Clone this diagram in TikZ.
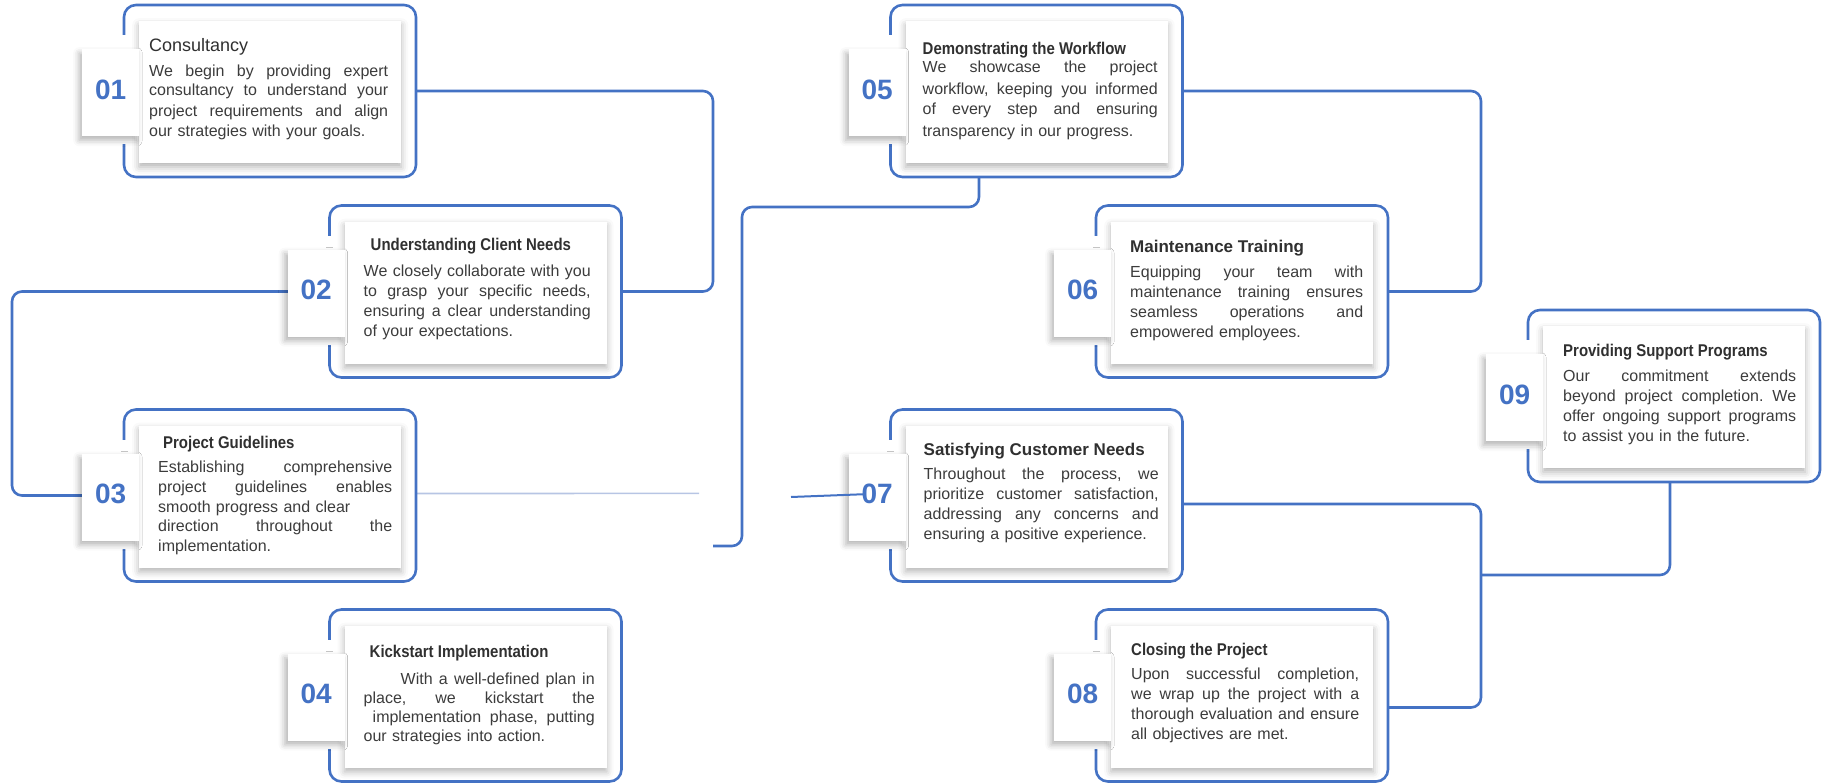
\documentclass[tikz,border=0pt]{standalone}
\usepackage{fontspec}
\setmainfont{Liberation Sans}
\newfontfamily\headfont[FakeStretch=0.88]{Liberation Sans}
\usepackage{xcolor}
\usetikzlibrary{calc, shadows.blur}
\definecolor{stepblue}{HTML}{4472C4}
\definecolor{paleblue}{HTML}{B7C5E4}
\definecolor{headgray}{HTML}{303030}
\definecolor{bodygray}{HTML}{3C3C3C}
\newcommand{\jl}[2][233pt]{\leavevmode\hbox to #1{\frenchspacing\spaceskip=0.28em plus 1fil\relax#2}}
\pgfdeclarelayer{back}
\pgfsetlayers{back,main}

\begin{document}
\begin{tikzpicture}[x=1pt, y=-1pt,
    stepframe/.style={draw=stepblue, line width=2.6pt, rounded corners=12pt, minimum width=292pt, minimum height=172pt, anchor=north west, inner sep=0pt, outer sep=0pt},
    stepgap/.style={fill=white, minimum width=7pt, minimum height=109pt, inner sep=0pt},
    stepcard/.style={fill=white, minimum width=262pt, minimum height=142pt, anchor=north west, inner sep=0pt, blur shadow={shadow xshift=0pt, shadow yshift=-4pt, shadow blur radius=7pt, shadow opacity=30}},
    steptab/.style={fill=white, minimum width=57pt, minimum height=87pt, anchor=north west, inner sep=0pt, blur shadow={shadow xshift=-3pt, shadow yshift=-4pt, shadow blur radius=6pt, shadow opacity=30}},
    stepnum/.style={font=\bfseries\fontsize{28}{28}\selectfont, text=stepblue, inner sep=0pt},
    stephead/.style={font=\headfont\bfseries\fontsize{17}{20}\selectfont, text=headgray, anchor=base west, inner sep=0pt},
    stepbody/.style={font=\fontsize{16}{20}\selectfont, text=bodygray, anchor=base west, inner sep=0pt, align=left, text width=240pt},
    steplink/.style={draw=stepblue, line width=2.6pt, rounded corners=10pt},
    paleline/.style={draw=paleblue, line width=1.6pt}]
\useasboundingbox (0,0) rectangle (1825,784);
% 01
\node[stepframe] (f1) at (124,5) {};
\node[stepgap] at ([yshift=-84.5pt]f1.north west) {};
\node[stepcard] (c1) at ([xshift=15pt,yshift=-16pt]f1.north west) {};
\node[steptab] (t1) at ([xshift=-42pt,yshift=-44pt]f1.north west) {};
\node[stepnum] (n1) at ([yshift=3pt]t1.center) {01};
\node[stephead, font=\fontsize{18}{20}\selectfont] (h1) at ([xshift=25pt,yshift=-46.5pt]f1.north west) {Consultancy};
\node[stepbody] (b1) at ([xshift=25pt,yshift=-71pt]f1.north west)
  {\jl[239pt]{We begin by providing expert}\\ \jl[239pt]{consultancy to understand your}\\ \jl[239pt]{project requirements and align}\\ our strategies with your goals.};
% 02
\node[stepframe] (f2) at (329.5,205.5) {};
\node[stepgap] at ([yshift=-84.5pt]f2.north west) {};
\node[stepcard] (c2) at ([xshift=15pt,yshift=-16pt]f2.north west) {};
\node[steptab] (t2) at ([xshift=-42pt,yshift=-44pt]f2.north west) {};
\node[stepnum] (n2) at ([yshift=3pt]t2.center) {02};
\node[stephead] (h2) at ([xshift=41pt,yshift=-45pt]f2.north west) {Understanding Client Needs};
\node[stepbody] (b2) at ([xshift=34pt,yshift=-71pt]f2.north west)
  {\jl[227pt]{We closely collaborate with you}\\ \jl[227pt]{to grasp your specific needs,}\\ \jl[227pt]{ensuring a clear understanding}\\ of your expectations.};
% 03
\node[stepframe] (f3) at (124,409.5) {};
\node[stepgap] at ([yshift=-84.5pt]f3.north west) {};
\node[stepcard] (c3) at ([xshift=15pt,yshift=-16pt]f3.north west) {};
\node[steptab] (t3) at ([xshift=-42pt,yshift=-44pt]f3.north west) {};
\node[stepnum] (n3) at ([yshift=3pt]t3.center) {03};
\node[stephead] (h3) at ([xshift=39pt,yshift=-38.5pt]f3.north west) {Project Guidelines};
\node[stepbody, font=\fontsize{16}{19.75}\selectfont] (b3) at ([xshift=34pt,yshift=-63pt]f3.north west)
  {\jl[234pt]{Establishing comprehensive}\\ \jl[234pt]{project guidelines enables}\\ smooth progress and clear\\ \jl[234pt]{direction throughout the}\\ implementation.};
% 04
\node[stepframe] (f4) at (329.5,609.5) {};
\node[stepgap] at ([yshift=-84.5pt]f4.north west) {};
\node[stepcard] (c4) at ([xshift=15pt,yshift=-16pt]f4.north west) {};
\node[steptab] (t4) at ([xshift=-42pt,yshift=-44pt]f4.north west) {};
\node[stepnum] (n4) at ([yshift=3pt]t4.center) {04};
\node[stephead] (h4) at ([xshift=40pt,yshift=-48pt]f4.north west) {Kickstart Implementation};
\node[stepbody, font=\fontsize{16}{19}\selectfont] (b4) at ([xshift=34pt,yshift=-75pt]f4.north west)
  {\jl[231pt]{\hspace*{37pt}With a well-defined plan in}\\ \jl[231pt]{place, we kickstart the}\\ \jl[231pt]{\hspace*{9pt}implementation phase, putting}\\ our strategies into action.};
% 05
\node[stepframe] (f5) at (890.5,5) {};
\node[stepgap] at ([yshift=-84.5pt]f5.north west) {};
\node[stepcard] (c5) at ([xshift=15pt,yshift=-16pt]f5.north west) {};
\node[steptab] (t5) at ([xshift=-42pt,yshift=-44pt]f5.north west) {};
\node[stepnum] (n5) at ([yshift=3pt]t5.center) {05};
\node[stephead] (h5) at ([xshift=32pt,yshift=-50pt]f5.north west) {Demonstrating the Workflow};
\node[stepbody, font=\fontsize{16}{21}\selectfont] (b5) at ([xshift=32pt,yshift=-68pt]f5.north west)
  {\jl[235pt]{We showcase the project}\\ \jl[235pt]{workflow, keeping you informed}\\ \jl[235pt]{of every step and ensuring}\\ transparency in our progress.};
% 06
\node[stepframe] (f6) at (1096,205.5) {};
\node[stepgap] at ([yshift=-84.5pt]f6.north west) {};
\node[stepcard] (c6) at ([xshift=15pt,yshift=-16pt]f6.north west) {};
\node[steptab] (t6) at ([xshift=-42pt,yshift=-44pt]f6.north west) {};
\node[stepnum] (n6) at ([yshift=3pt]t6.center) {06};
\node[stephead, font=\bfseries\fontsize{17}{20}\selectfont] (h6) at ([xshift=34pt,yshift=-46.5pt]f6.north west) {Maintenance Training};
\node[stepbody] (b6) at ([xshift=34pt,yshift=-71.5pt]f6.north west)
  {\jl{Equipping your team with}\\ \jl{maintenance training ensures}\\ \jl{seamless operations and}\\ empowered employees.};
% 07
\node[stepframe] (f7) at (890.5,409.5) {};
\node[stepgap] at ([yshift=-84.5pt]f7.north west) {};
\node[stepcard] (c7) at ([xshift=15pt,yshift=-16pt]f7.north west) {};
\node[steptab] (t7) at ([xshift=-42pt,yshift=-44pt]f7.north west) {};
\node[stepnum] (n7) at ([yshift=3pt]t7.center) {07};
\node[stephead, font=\bfseries\fontsize{17}{20}\selectfont] (h7) at ([xshift=33pt,yshift=-46pt]f7.north west) {Satisfying Customer Needs};
\node[stepbody] (b7) at ([xshift=33pt,yshift=-70pt]f7.north west)
  {\jl[235pt]{Throughout the process, we}\\ \jl[235pt]{prioritize customer satisfaction,}\\ \jl[235pt]{addressing any concerns and}\\ ensuring a positive experience.};
% 08
\node[stepframe] (f8) at (1096,609.5) {};
\node[stepgap] at ([yshift=-84.5pt]f8.north west) {};
\node[stepcard] (c8) at ([xshift=15pt,yshift=-16pt]f8.north west) {};
\node[steptab] (t8) at ([xshift=-42pt,yshift=-44pt]f8.north west) {};
\node[stepnum] (n8) at ([yshift=3pt]t8.center) {08};
\node[stephead] (h8) at ([xshift=35pt,yshift=-46pt]f8.north west) {Closing the Project};
\node[stepbody] (b8) at ([xshift=35pt,yshift=-70pt]f8.north west)
  {\jl[228pt]{Upon successful completion,}\\ \jl[228pt]{we wrap up the project with a}\\ \jl[228pt]{thorough evaluation and ensure}\\ all objectives are met.};
% 09
\node[stepframe] (f9) at (1528,310) {};
\node[stepgap] at ([yshift=-84.5pt]f9.north west) {};
\node[stepcard] (c9) at ([xshift=15pt,yshift=-16pt]f9.north west) {};
\node[steptab] (t9) at ([xshift=-42pt,yshift=-44pt]f9.north west) {};
\node[stepnum] (n9) at ([yshift=3pt]t9.center) {09};
\node[stephead] (h9) at ([xshift=35pt,yshift=-46pt]f9.north west) {Providing Support Programs};
\node[stepbody] (b9) at ([xshift=35pt,yshift=-71pt]f9.north west)
  {\jl{Our commitment extends}\\ \jl{beyond project completion. We}\\ \jl{offer ongoing support programs}\\ to assist you in the future.};
% connectors
\coordinate (gapA) at (699,493.4);
\coordinate (gapB) at (713,546);
\coordinate (gapC) at (791,497);
\coordinate (join) at (1481,575);
\begin{pgfonlayer}{back}
\draw[steplink] (f1.east) -- ++(297,0) |- (f2.east);
\draw[steplink] (f2.west) -| ([xshift=-112pt]f3.west) -- (f3.west);
\draw[paleline] ([yshift=2pt]f3.east) -- (gapA);
\draw[steplink] (gapB) -| (742,207) -| ([xshift=-57.5pt]f5.south);
\draw[steplink] (f5.east) -- ++(298.5,0) |- (f6.east);
\draw[steplink] ([yshift=-8.5pt]f7.east) -- ++(298.5,0) |- ([yshift=-12pt]f8.east);
\draw[steplink] ([xshift=-4pt]f9.south) |- (join);
\end{pgfonlayer}
\draw[steplink, line width=2pt] (gapC) -- ([xshift=3pt]n7.west);
\end{tikzpicture}
\end{document}
